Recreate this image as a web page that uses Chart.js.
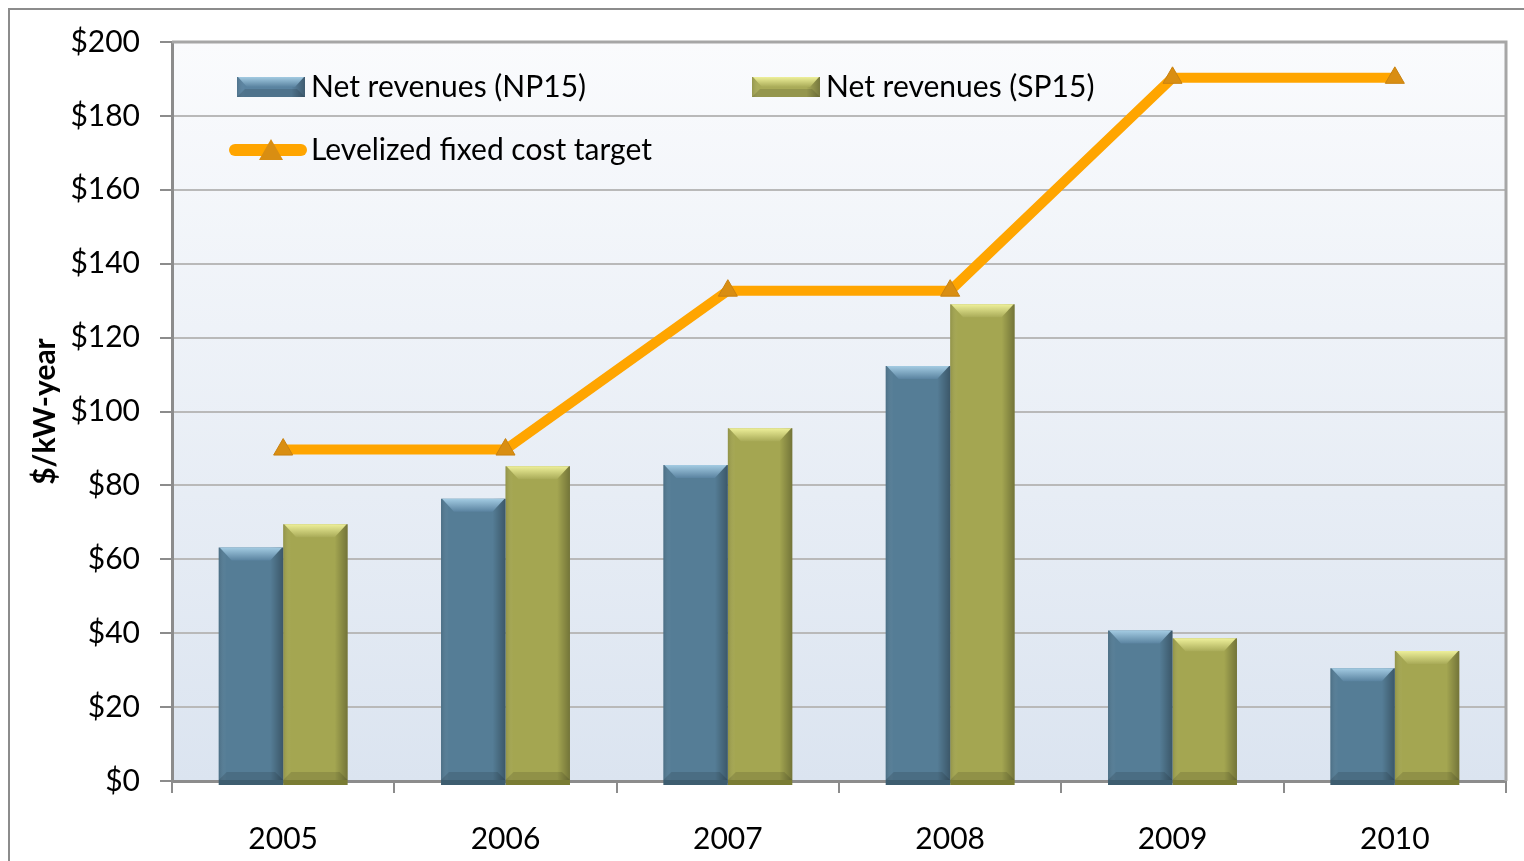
<!DOCTYPE html>
<html>
<head>
<meta charset="utf-8">
<script src="https://cdn.jsdelivr.net/npm/chart.js@4/dist/chart.umd.min.js"></script>
<style>
  html, body { margin: 0; padding: 0; background: #fff; }
  #wrap { width: 1524px; height: 861px; position: relative; }
</style>
</head>
<body>
<div id="wrap"><canvas id="costChart"></canvas></div>
<script>
// chart values
const years = ['2005', '2006', '2007', '2008', '2009', '2010'];
const netRevNP15 = [63.2, 76.4, 85.5, 112.3, 40.7, 30.5];
const netRevSP15 = [69.5, 85.2, 95.5, 129.0, 38.6, 35.2];
const fixedCostTarget = [89.7, 89.7, 132.7, 132.7, 190.3, 190.3];
const yTicks = [0, 20, 40, 60, 80, 100, 120, 140, 160, 180, 200];

const FONT = 'Lato, "Open Sans", sans-serif';

// plot background gradient + outer frame
const backdrop = {
    id: 'backdrop',
    beforeDraw(chart) {
        const { ctx, chartArea: a } = chart;
        ctx.save();
        ctx.strokeStyle = '#8c8c8c';
        ctx.lineWidth = 2;
        ctx.strokeRect(9, 9, chart.width + 20, chart.height + 20);
        const g = ctx.createLinearGradient(0, a.top, 0, a.bottom);
        g.addColorStop(0, '#fafbfd');
        g.addColorStop(1, '#dbe4f0');
        ctx.fillStyle = g;
        ctx.fillRect(a.left, a.top, a.right - a.left, a.bottom - a.top);
        ctx.restore();
    },
    afterDraw(chart) {
        const { ctx, chartArea: a } = chart;
        ctx.save();
        ctx.strokeStyle = '#a6a6a6';
        ctx.lineWidth = 3;
        ctx.beginPath();
        ctx.moveTo(a.left, a.top);
        ctx.lineTo(a.right, a.top);
        ctx.lineTo(a.right, a.bottom);
        ctx.stroke();
        ctx.restore();
    }
};

const shades = [
    { light: '#a3cbe2', dark: '#3d5d70', mid: '#5a83a0' },
    { light: '#eef09a', dark: '#7a7c33', mid: '#a9ab58' }
];

function bevelRect(ctx, left, top, w, h, s) {
    // side shading
    const g = ctx.createLinearGradient(left, 0, left + w, 0);
    g.addColorStop(0, 'rgba(0,0,0,0.12)');
    g.addColorStop(0.12, 'rgba(255,255,255,0.0)');
    g.addColorStop(0.8, 'rgba(0,0,0,0.0)');
    g.addColorStop(1, 'rgba(0,0,0,0.3)');
    ctx.fillStyle = g;
    ctx.fillRect(left, top, w, h);
    // top bevel, fading down into the bar colour
    const bh = Math.min(13, h / 2);
    const tg = ctx.createLinearGradient(0, top, 0, top + bh);
    tg.addColorStop(0, s.light);
    tg.addColorStop(1, s.mid);
    ctx.fillStyle = tg;
    ctx.beginPath();
    ctx.moveTo(left + 1, top);
    ctx.lineTo(left + w - 1, top);
    ctx.lineTo(left + w - bh, top + bh);
    ctx.lineTo(left + bh, top + bh);
    ctx.closePath();
    ctx.fill();
    // bottom bevel
    ctx.fillStyle = 'rgba(0,0,0,0.12)';
    ctx.beginPath();
    ctx.moveTo(left, top + h);
    ctx.lineTo(left + w, top + h);
    ctx.lineTo(left + w - 8, top + h - 8);
    ctx.lineTo(left + 8, top + h - 8);
    ctx.closePath();
    ctx.fill();
}

const barShading = {
    id: 'barShading',
    afterDatasetDraw(chart, args) {
        if (args.meta.type !== 'bar') return;
        const { ctx } = chart;
        const s = shades[args.index];
        ctx.save();
        args.meta.data.forEach(bar => {
            const p = bar.getProps(['x', 'y', 'base', 'width'], true);
            const left = p.x - p.width / 2;
            bevelRect(ctx, left, p.y, p.width, p.base - p.y, s);
            ctx.fillStyle = s.dark;
            ctx.fillRect(left, p.base, p.width, 5);
        });
        ctx.restore();
    }
};

// legend drawn inside the plot area, two rows like the original
const insideLegend = {
    id: 'insideLegend',
    afterDraw(chart) {
        const { ctx } = chart;
        ctx.save();
        ctx.font = '30px ' + FONT;
        ctx.fillStyle = '#000';
        ctx.textBaseline = 'middle';
        const items = [
            { x: 237, y: 87, ds: 0 },
            { x: 752, y: 87, ds: 1 },
            { x: 229, y: 150, ds: 2 }
        ];
        items.forEach(it => {
            const ds = chart.data.datasets[it.ds];
            if (it.ds < 2) {
                ctx.fillStyle = shades[it.ds].mid;
                ctx.fillRect(it.x, it.y - 10, 68, 20);
                bevelRect(ctx, it.x, it.y - 10, 68, 20, shades[it.ds]);
                ctx.fillStyle = '#000';
                ctx.fillText(ds.label, it.x + 74, it.y);
            } else {
                ctx.strokeStyle = '#ffa500';
                ctx.lineWidth = 12;
                ctx.lineCap = 'round';
                ctx.beginPath();
                ctx.moveTo(it.x + 6, it.y);
                ctx.lineTo(it.x + 72, it.y);
                ctx.stroke();
                ctx.fillStyle = '#d98e12';
                ctx.beginPath();
                ctx.moveTo(it.x + 42, it.y - 11);
                ctx.lineTo(it.x + 54, it.y + 10);
                ctx.lineTo(it.x + 30, it.y + 10);
                ctx.closePath();
                ctx.fill();
                ctx.fillStyle = '#000';
                ctx.fillText(ds.label, it.x + 82, it.y);
            }
        });
        ctx.restore();
    }
};

const ctx = document.getElementById('costChart').getContext('2d');
const costChart = new Chart(ctx, {
    type: 'bar',
    data: {
        labels: years,
        datasets: [{
            label: 'Net revenues (NP15)',
            data: netRevNP15,
            backgroundColor: '#557d96',
            borderWidth: 0,
            order: 1
        }, {
            label: 'Net revenues (SP15)',
            data: netRevSP15,
            backgroundColor: '#a4a651',
            borderWidth: 0,
            order: 1
        }, {
            type: 'line',
            label: 'Levelized fixed cost target',
            data: fixedCostTarget,
            borderColor: '#ffa500',
            borderWidth: 10,
            tension: 0,
            pointStyle: 'triangle',
            pointRadius: 11,
            pointBackgroundColor: '#d98e12',
            pointBorderColor: '#c98210',
            pointBorderWidth: 1,
            order: 0
        }]
    },
    options: {
        responsive: true,
        maintainAspectRatio: false,
        animation: false,
        layout: { padding: { top: 42, right: 18, left: 0, bottom: 0 } },
        datasets: {
            bar: { barPercentage: 1, categoryPercentage: 0.58 }
        },
        plugins: {
            legend: { display: false },
            tooltip: { enabled: false }
        },
        scales: {
            x: {
                grid: { drawOnChartArea: false, offset: true, tickLength: 12, tickColor: '#8c8c8c', lineWidth: 2 },
                border: { color: '#8c8c8c', width: 3 },
                ticks: { font: { family: FONT, size: 30 }, color: '#000', padding: 28 },
                afterFit(scale) { scale.height = 80; }
            },
            y: {
                min: 0,
                max: 200,
                afterBuildTicks(scale) { scale.ticks = yTicks.map(v => ({ value: v })); },
                grid: { color: '#b9b9b9', lineWidth: 2, tickLength: 12, tickColor: '#8c8c8c' },
                border: { color: '#8c8c8c', width: 3 },
                ticks: {
                    font: { family: FONT, size: 30 },
                    color: '#000',
                    padding: 20,
                    callback: v => '$' + v
                },
                title: {
                    display: true,
                    text: '$/kW-year',
                    font: { family: FONT, size: 30, weight: 'bold' },
                    color: '#000',
                    padding: { top: 27, bottom: 0 }
                },
                afterFit(scale) { scale.width = 172; }
            }
        }
    },
    plugins: [backdrop, barShading, insideLegend]
});
</script>
</body>
</html>
